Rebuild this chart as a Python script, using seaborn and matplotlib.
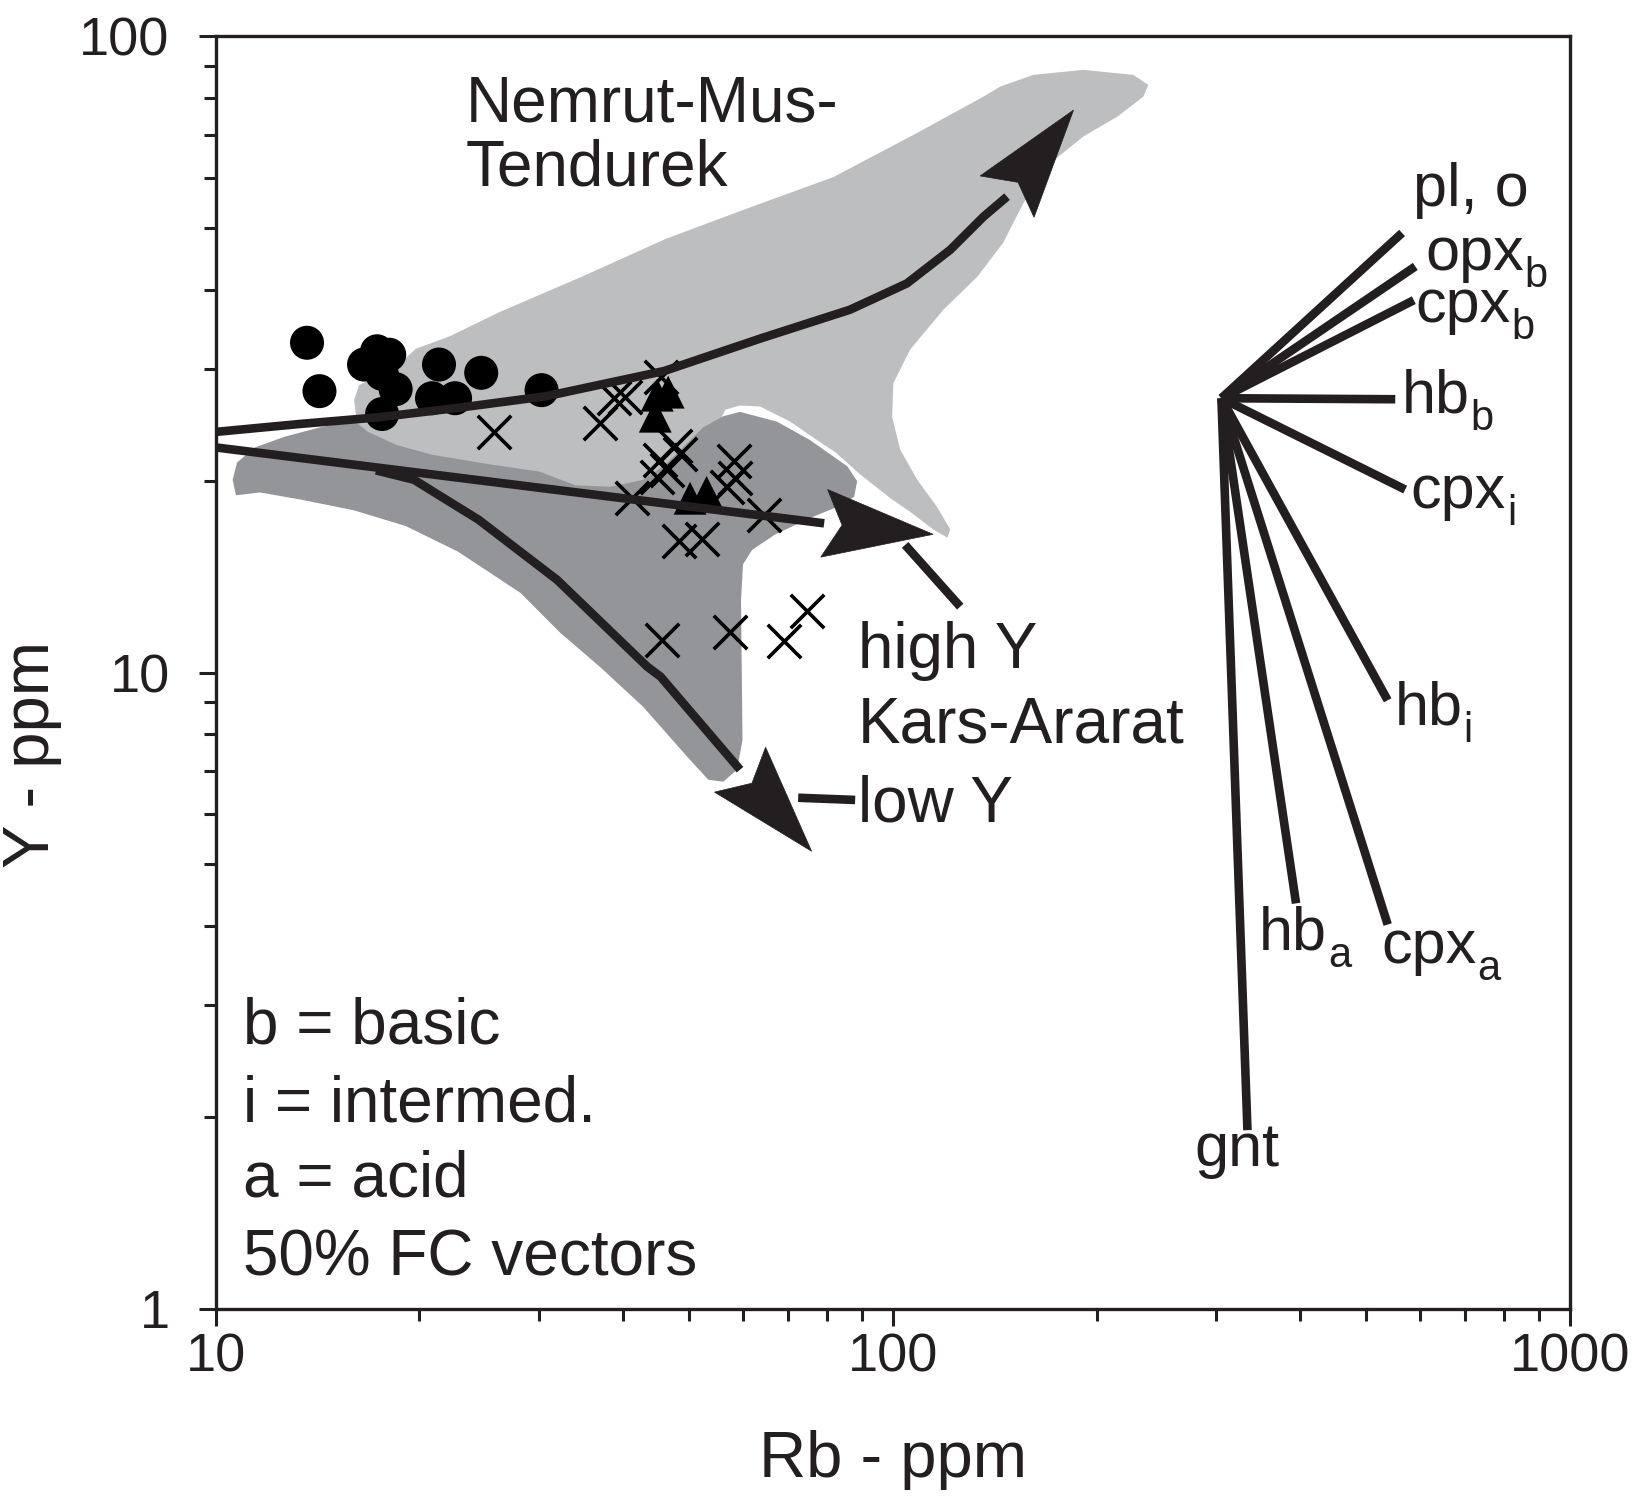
import numpy as np
import pandas as pd
import matplotlib
matplotlib.use("Agg")
import matplotlib.pyplot as plt
import seaborn as sns
from matplotlib.patches import Polygon
from matplotlib.ticker import FixedLocator, FuncFormatter, NullFormatter, LogLocator

# ---------------- data (Rb ppm, Y ppm) ----------------
circle_rb = [13.65, 14.24, 16.57, 17.32, 18.05, 17.6, 17.62, 18.45, 21.38, 20.88, 22.58, 24.68, 30.3]
circle_y = [33.0, 27.7, 30.5, 32.0, 31.6, 29.5, 25.5, 27.9, 30.5, 27.0, 27.0, 29.6, 27.8]

triangle_rb = [44.9, 46.6, 44.6, 50.2, 53.1]
triangle_y = [27.3, 27.6, 25.3, 18.8, 19.2]

cross_rb = [25.8, 37.0, 38.8, 40.3, 45.5, 47.7, 48.5, 45.4, 44.9, 46.4, 58.2, 58.5,
            41.2, 56.9, 64.5, 48.3, 52.3, 45.6, 57.5, 69.0, 74.7]
cross_y = [23.9, 24.7, 27.0, 27.1, 29.2, 22.7, 22.1, 21.6, 20.3, 20.8, 21.5, 20.2,
           18.8, 19.6, 17.7, 16.1, 16.2, 11.27, 11.6, 11.2, 12.5]

# Nemrut-Mus-Tendurek field (light)
nmt_rb = [16.02, 16.29, 18.48, 19.78, 22.2, 26.3, 34.9, 46.3, 61.4, 81.7, 108.6, 136.1, 144.1,
          161.3, 191.1, 226.6, 238.5, 234.4, 214.6, 191.1, 170.9, 155.9, 145.6, 133.3, 118.8,
          106.1, 100.2, 99.8, 102.6, 108.7, 116.3, 121.6, 120.4, 114.7, 106.1, 99.2, 89.5,
          82.3, 75.5, 70.6, 63.7, 59.5, 56.6, 54.7, 50.2, 43.8, 37.0, 30.2, 25.1, 20.9,
          18.5, 16.8, 16.2]
nmt_y = [26.8, 28.3, 30.3, 32.3, 33.8, 36.9, 42.0, 48.1, 53.8, 60.1, 70.5, 80.4, 83.4,
         87.0, 88.6, 87.0, 83.9, 80.4, 74.8, 69.6, 63.2, 54.7, 47.4, 41.9, 37.2,
         32.2, 28.5, 25.2, 22.4, 20.1, 18.2, 16.8, 16.3, 16.8, 17.9, 18.8, 20.5,
         22.2, 23.6, 24.8, 26.2, 26.3, 25.9, 24.1, 21.2, 19.0, 18.35, 19.0, 19.7, 20.5,
         21.2, 22.4, 24.3]

# Kars-Ararat field (dark)
ka_rb = [10.72, 10.6, 10.76, 11.44, 12.67, 14.27, 16.0, 16.8, 18.5, 20.9, 25.1, 30.1, 34.0,
         38.3, 42.8, 46.1, 49.4, 52.5, 56.2, 59.5, 67.5, 75.5, 85.7, 88.6, 87.7, 83.6,
         75.5, 67.1, 62.0, 60.1, 59.7, 60.0, 58.9, 56.2, 53.4, 49.7, 42.8, 37.0, 32.3,
         28.2, 22.8, 19.1, 16.0, 13.4, 11.63]
ka_y = [19.0, 20.1, 21.4, 22.6, 23.5, 24.3, 24.9, 23.9, 22.8, 22.0, 21.3, 20.7, 19.7,
        19.6, 20.1, 21.2, 22.8, 24.3, 25.3, 25.7, 24.8, 23.2, 21.1, 20.0, 18.9, 18.3,
        17.5, 16.5, 15.6, 14.8, 13.0, 7.84, 7.04, 6.74, 6.79, 7.38, 8.84, 10.2, 11.55,
        13.35, 15.5, 17.0, 18.0, 18.7, 19.2]

# trend arrows: path points, last point = head base, tip separately
up_rb = [10.0, 13.33, 17.41, 22.97, 30.8, 46.0, 63.7, 86.5, 104.9, 121.6, 136.2, 147.5]
up_y = [23.9, 24.6, 25.2, 26.1, 27.2, 29.8, 33.5, 37.2, 40.9, 46.2, 52.1, 56.0]
up_tip = (184.9, 76.6)

mid_rb = [10.0, 79.2]
mid_y = [22.6, 17.17]
mid_tip = (114.7, 16.5)

low_rb = [17.26, 19.64, 24.47, 31.95, 43.4, 45.4, 59.5]
low_y = [20.8, 20.1, 17.39, 13.99, 10.22, 9.86, 7.04]
low_tip = (75.9, 5.24)

# leader lines
leader_high_rb = [104.3, 125.8]
leader_high_y = [15.88, 12.7]
leader_low_rb = [72.5, 88.0]
leader_low_y = [6.36, 6.31]

# 50% FC vectors
vec_origin = (305.7, 27.0)
vec_names = ["pl, o", "opx_b", "cpx_b", "hb_b", "cpx_i", "hb_i", "cpx_a", "hb_a", "gnt"]
vec_end_rb = [565, 591, 588, 552, 571, 538, 538, 394, 334]
vec_end_y = [49.1, 43.5, 38.5, 26.9, 19.4, 9.05, 4.02, 4.34, 1.91]
vec_label_main = ["pl, o", "opx", "cpx", "hb", "cpx", "hb", "cpx", "hb", "gnt"]
vec_label_sub = ["", "b", "b", "b", "i", "i", "a", "a", ""]
vec_label_rb = [585.6, 610.9, 591.3, 563.8, 581.5, 550.7, 526.7, 347.2, 278.8]
vec_label_y = [54.2, 42.96, 35.6, 25.6, 18.16, 8.28, 3.50, 3.67, 1.68]

x_ticks = [10, 100, 1000]
y_ticks = [1, 10, 100]

# ---------------- style ----------------
sns.set_theme(style="ticks")
plt.rcParams["font.family"] = ["Liberation Sans", "DejaVu Sans"]
plt.rcParams["lines.solid_capstyle"] = "butt"
plt.rcParams["lines.solid_joinstyle"] = "round"

INK = "#231f20"
LIGHT = "#bcbec0"
DARK = "#939598"
LW = 6.2

W, H = 1632, 1505
fig = plt.figure(figsize=(W / 100, H / 100), dpi=100)
ax = fig.add_axes([215.5 / W, 1 - 1309 / H, (1570 - 215.5) / W, (1309 - 36.4) / H])
ax.set_xscale("log")
ax.set_yscale("log")
ax.set_xlim(10, 1000)
ax.set_ylim(1, 100)
ax.set_facecolor("white")

# fields
ax.fill(nmt_rb, nmt_y, color=LIGHT, lw=0, zorder=1)
ax.fill(ka_rb, ka_y, color=DARK, lw=0, zorder=2)

# data points
sns.scatterplot(x=circle_rb, y=circle_y, marker="o", s=600, color="black",
                edgecolor="none", linewidth=0, ax=ax, zorder=4, legend=False)
sns.scatterplot(x=triangle_rb, y=triangle_y, marker="^", s=560, color="black",
                edgecolor="none", linewidth=0, ax=ax, zorder=4, legend=False)
sns.scatterplot(x=cross_rb, y=cross_y, marker="x", s=580, color="black",
                linewidth=2.6, ax=ax, zorder=4, legend=False)

# trend arrows + leaders
arr = pd.DataFrame({
    "rb": up_rb + mid_rb + low_rb + leader_high_rb + leader_low_rb,
    "y": up_y + mid_y + low_y + leader_high_y + leader_low_y,
    "unit": ["up"] * len(up_rb) + ["mid"] * len(mid_rb) + ["low"] * len(low_rb)
            + ["lh"] * 2 + ["ll"] * 2,
})
sns.lineplot(data=arr, x="rb", y="y", units="unit", estimator=None, sort=False,
             color=INK, lw=LW, ax=ax, zorder=5, legend=False)


def arrow_head(base, tip, half_w=34, notch=18):
    t = ax.transData
    b = t.transform(base)
    p = t.transform(tip)
    d = p - b
    L = np.hypot(*d)
    u = d / L
    n = np.array([-u[1], u[0]])
    verts = np.array([p, b + half_w * n, p - (L - notch) * u, b - half_w * n])
    ax.add_patch(Polygon(t.inverted().transform(verts), closed=True,
                         facecolor=INK, edgecolor=INK, lw=0.5, zorder=6))


arrow_head((up_rb[-1], up_y[-1]), up_tip)
arrow_head((mid_rb[-1], mid_y[-1]), mid_tip)
arrow_head((low_rb[-1], low_y[-1]), low_tip)

# vectors
vec = pd.DataFrame({
    "rb": [v for e in vec_end_rb for v in (vec_origin[0], e)],
    "y": [v for e in vec_end_y for v in (vec_origin[1], e)],
    "unit": [n for n in vec_names for _ in range(2)],
})
sns.lineplot(data=vec, x="rb", y="y", units="unit", estimator=None, sort=False,
             color=INK, lw=LW, ax=ax, zorder=5, legend=False)

# vector labels with lowered subscripts
renderer = fig.canvas.get_renderer()
SUB_DROP = 17  # px
for main, sub, xr, yr in zip(vec_label_main, vec_label_sub, vec_label_rb, vec_label_y):
    t = ax.text(xr, yr, main, fontsize=44, color=INK, ha="left", va="baseline", zorder=7)
    if sub:
        ext = t.get_window_extent(renderer)
        base_px = ax.transData.transform((xr, yr))
        sx, sy = ax.transData.inverted().transform((ext.x1 + 1, base_px[1] - SUB_DROP))
        ax.text(sx, sy, sub, fontsize=30, color=INK, ha="left", va="baseline", zorder=7)

FS = 46
ax.text(23.4, 73.4, "Nemrut-Mus-", fontsize=FS, color=INK, va="baseline", zorder=7)
ax.text(23.4, 58.4, "Tendurek", fontsize=FS, color=INK, va="baseline", zorder=7)
ax.text(88.9, 10.18, "high Y", fontsize=FS, color=INK, va="baseline", zorder=7)
ax.text(88.9, 7.76, "Kars-Ararat", fontsize=FS, color=INK, va="baseline", zorder=7)
ax.text(88.9, 5.83, "low Y", fontsize=FS, color=INK, va="baseline", zorder=7)
ax.text(10.98, 2.61, "b = basic", fontsize=FS, color=INK, va="baseline", zorder=7)
ax.text(10.98, 1.97, "i = intermed.", fontsize=FS, color=INK, va="baseline", zorder=7)
ax.text(10.98, 1.50, "a = acid", fontsize=FS, color=INK, va="baseline", zorder=7)
ax.text(10.98, 1.13, "50% FC vectors", fontsize=FS, color=INK, va="baseline", zorder=7)

# axes
ax.xaxis.set_major_locator(FixedLocator(x_ticks))
ax.yaxis.set_major_locator(FixedLocator(y_ticks))
ax.xaxis.set_minor_locator(LogLocator(base=10, subs=np.arange(2, 10)))
ax.yaxis.set_minor_locator(LogLocator(base=10, subs=np.arange(2, 10)))
fmt = FuncFormatter(lambda v, p: f"{v:g}")
ax.xaxis.set_major_formatter(fmt)
ax.yaxis.set_major_formatter(fmt)
ax.xaxis.set_minor_formatter(NullFormatter())
ax.yaxis.set_minor_formatter(NullFormatter())
ax.tick_params(which="major", direction="out", length=12, width=2.2, color=INK,
               labelsize=39, labelcolor=INK, top=False, right=False)
ax.tick_params(which="minor", direction="out", length=8.5, width=2.2, color=INK,
               top=False, right=False)
ax.tick_params(axis="x", which="major", pad=5)
ax.tick_params(axis="y", which="major", pad=21)
for s in ax.spines.values():
    s.set_linewidth(2.4)
    s.set_color(INK)
    s.set_visible(True)
ax.grid(False)

ax.set_xlabel("Rb - ppm", fontsize=47, color=INK)
ax.set_ylabel("Y - ppm", fontsize=47, color=INK)
ax.xaxis.set_label_coords(0.5, -0.095)
ax.yaxis.set_label_coords(-0.113, 0.436)

fig.savefig("out.png", dpi=100)
